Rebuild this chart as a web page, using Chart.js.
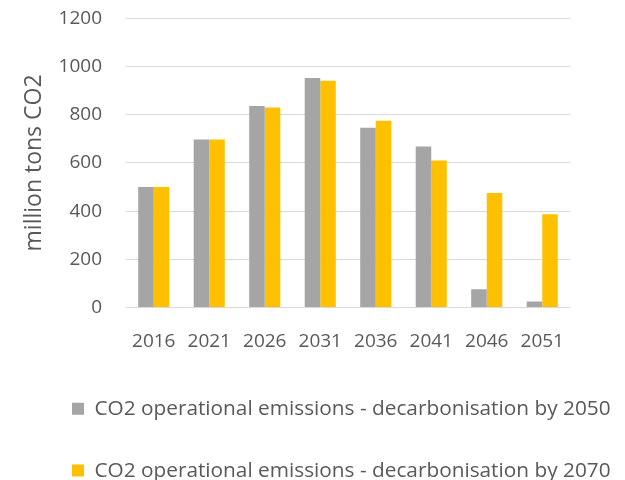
<!DOCTYPE html>
<html>
<head>
<meta charset="utf-8">
<script src="https://cdn.jsdelivr.net/npm/chart.js@4.4.1/dist/chart.umd.min.js"></script>
<style>
    html, body { margin: 0; padding: 0; background: #fff; overflow: hidden; }
    #wrap { width: 625px; height: 480px; }
</style>
</head>
<body>
<div id="wrap"><canvas id="co2Chart" width="625" height="480"></canvas></div>
<script>
// Chart data
const years = ['2016', '2021', '2026', '2031', '2036', '2041', '2046', '2051'];
const decarb2050 = [500, 697, 837, 953, 746, 668, 75, 24];
const decarb2070 = [500, 697, 830, 941, 775, 610, 475, 387];
const seriesNames = [
    'CO2 operational emissions - decarbonisation by 2050',
    'CO2 operational emissions - decarbonisation by 2070'
];
const yTicks = [0, 200, 400, 600, 800, 1000, 1200];

const textColor = '#595959';
const fontFamily = '"Open Sans", Lato, sans-serif';

function initChart() {
    const ctx = document.getElementById('co2Chart').getContext('2d');
    new Chart(ctx, {
        type: 'bar',
        data: {
            labels: years,
            datasets: [{
                label: seriesNames[0],
                data: decarb2050,
                backgroundColor: '#a5a5a5',
                borderWidth: 0,
                categoryPercentage: 0.56,
                barPercentage: 1
            }, {
                label: seriesNames[1],
                data: decarb2070,
                backgroundColor: '#ffc000',
                borderWidth: 0,
                categoryPercentage: 0.56,
                barPercentage: 1
            }]
        },
        options: {
            responsive: false,
            animation: false,
            layout: {
                padding: { left: 31, right: 0, top: 18.5, bottom: -11 }
            },
            plugins: {
                legend: {
                    position: 'bottom',
                    align: 'start',
                    labels: {
                        color: textColor,
                        font: { family: fontFamily, size: 20.8 },
                        boxWidth: 12,
                        boxHeight: 12,
                        padding: 41
                    }
                },
                tooltip: { enabled: false }
            },
            scales: {
                x: {
                    grid: { display: false },
                    border: { display: false },
                    ticks: {
                        color: textColor,
                        font: { family: fontFamily, size: 19 },
                        padding: 15,
                        maxRotation: 0
                    },
                    afterFit: function (scale) {
                        scale.height = 50;
                    }
                },
                y: {
                    min: 0,
                    max: 1200,
                    grid: {
                        color: '#d9d9d9',
                        lineWidth: 1,
                        tickLength: 24,
                        tickColor: 'rgba(0,0,0,0)'
                    },
                    border: { display: false },
                    afterBuildTicks: function (scale) {
                        scale.ticks = yTicks.map(v => ({ value: v }));
                    },
                    ticks: {
                        color: textColor,
                        font: { family: fontFamily, size: 19 },
                        padding: 0,
                        callback: function (value) {
                            return String(value);
                        }
                    },
                    title: {
                        display: true,
                        text: 'million tons CO2',
                        color: textColor,
                        font: { family: fontFamily, size: 23 },
                        padding: { top: -10, bottom: 0 }
                    },
                    afterFit: function (scale) {
                        scale.width = 95;
                    }
                },
                // empty right axis, only keeps the right margin of the plot
                yRight: {
                    type: 'linear',
                    position: 'right',
                    min: 0,
                    max: 1200,
                    grid: { display: false },
                    border: { display: false },
                    ticks: { display: false },
                    afterFit: function (scale) {
                        scale.width = 55;
                    }
                }
            }
        }
    });
}

document.addEventListener('DOMContentLoaded', initChart);
</script>
</body>
</html>
